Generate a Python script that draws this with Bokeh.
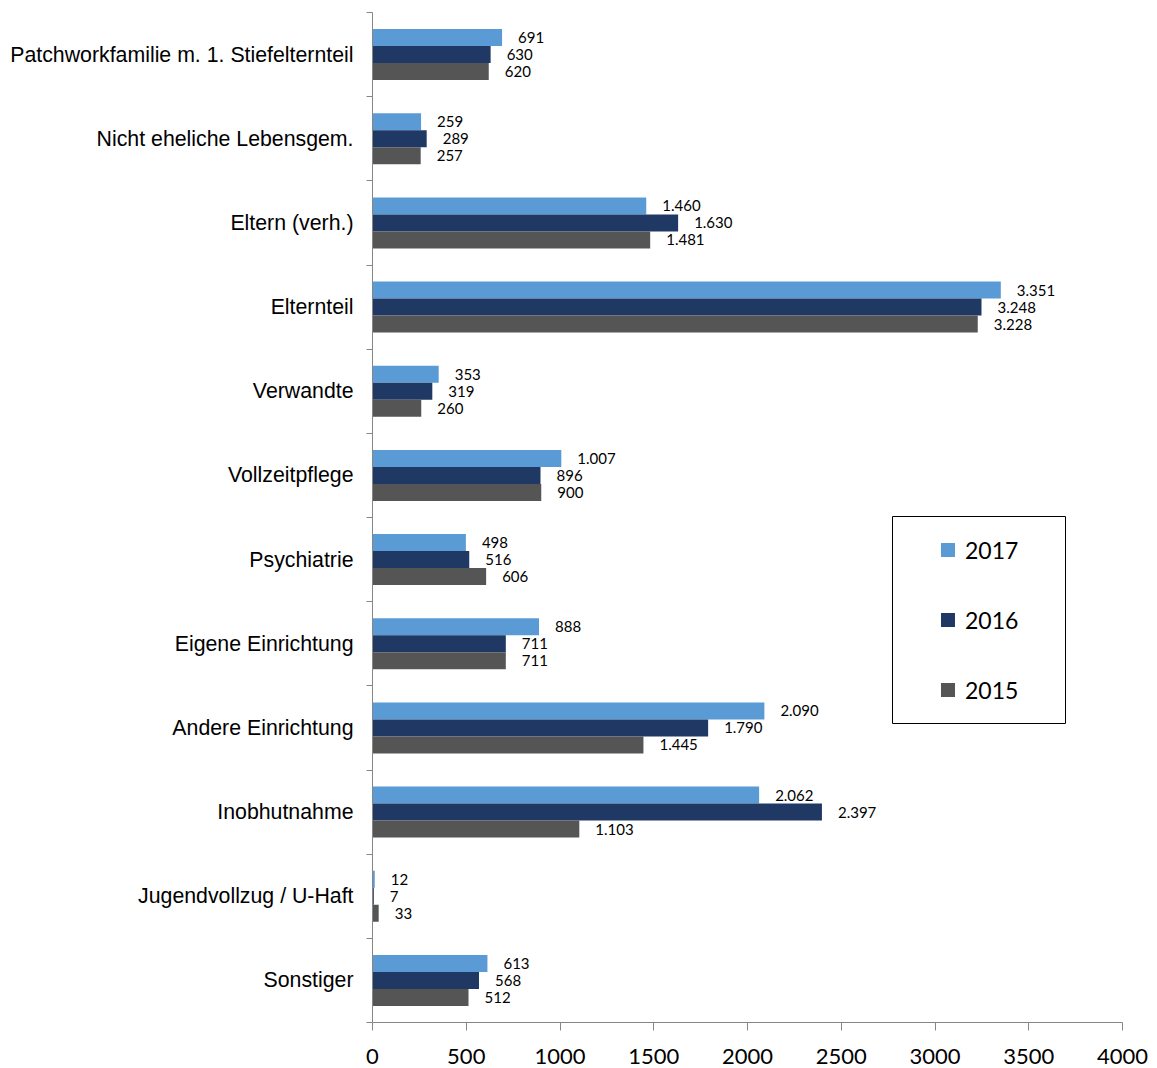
from bokeh.plotting import figure
from bokeh.models import (Range1d, FixedTicker, Legend, LegendItem,
                          ColumnDataSource, BoxAnnotation)
from bokeh.transform import dodge
from bokeh.core.properties import value
from bokeh.embed import file_html
from bokeh.resources import INLINE

categories = [
    "Patchworkfamilie m. 1. Stiefelternteil",
    "Nicht eheliche Lebensgem.",
    "Eltern (verh.)",
    "Elternteil",
    "Verwandte",
    "Vollzeitpflege",
    "Psychiatrie",
    "Eigene Einrichtung",
    "Andere Einrichtung",
    "Inobhutnahme",
    "Jugendvollzug / U-Haft",
    "Sonstiger",
]
v2017 = [691, 259, 1460, 3351, 353, 1007, 498, 888, 2090, 2062, 12, 613]
v2016 = [630, 289, 1630, 3248, 319, 896, 516, 711, 1790, 2397, 7, 568]
v2015 = [620, 257, 1481, 3228, 260, 900, 606, 711, 1445, 1103, 33, 512]
years = ["2017", "2016", "2015"]
x_ticks = [0, 500, 1000, 1500, 2000, 2500, 3000, 3500, 4000]

colors = ["#5B9BD5", "#203864", "#555555"]
series = [v2017, v2016, v2015]

n = len(categories)
idx = list(range(n))

W, H = 1157, 1068
BL, BR, BT, BB = 372, 35, 12, 46
p = figure(
    width=W, height=H,
    x_range=Range1d(0, 4000), y_range=Range1d(n - 0.5, -0.5),
    output_backend="svg", toolbar_location=None,
    min_border_left=BL, min_border_right=BR,
    min_border_top=BT, min_border_bottom=BB,
)
p.outline_line_color = None
p.xgrid.visible = False
p.ygrid.visible = False

bar_h = 0.202
offsets = [-bar_h, 0.0, bar_h]

def fmt(v):
    return f"{v:,}".replace(",", ".")

legend_items = []
for yr, vals, col, off in zip(years, series, colors, offsets):
    src = ColumnDataSource(dict(y=idx, v=vals, lab=[fmt(v) for v in vals]))
    p.hbar(y=dodge("y", off), left=0, right="v", height=bar_h,
           fill_color=col, line_color=None, source=src)
    p.text(x="v", y=dodge("y", off), text="lab", x_offset=16,
           text_baseline="middle", text_align="left",
           text_font=value("Lato"), text_font_size="15px",
           text_color="black", source=src)
    # marker renderer used only for the legend swatch
    r = p.scatter(x="v", y="y", source=src, marker="square",
                  fill_color=col, line_color=None, visible=False)
    legend_items.append(LegendItem(label=yr, renderers=[r]))

axis_col = "#868686"
xa = p.xaxis[0]
xa.ticker = FixedTicker(ticks=x_ticks)
xa.minor_tick_line_color = None
xa.major_tick_in = 0
xa.major_tick_out = 8
xa.major_label_standoff = 18
xa.axis_line_color = axis_col
xa.major_tick_line_color = axis_col
xa.major_label_text_font = "Lato"
xa.major_label_text_font_size = "22px"
xa.major_label_text_color = "black"

ya = p.yaxis[0]
ya.ticker = FixedTicker(ticks=idx, minor_ticks=[i - 0.5 for i in range(n + 1)])
ya.major_label_overrides = {i: c for i, c in zip(idx, categories)}
ya.major_tick_line_color = None
ya.major_tick_in = 0
ya.major_tick_out = 0
ya.minor_tick_in = 0
ya.minor_tick_out = 6
ya.minor_tick_line_color = axis_col
ya.axis_line_color = axis_col
ya.major_label_standoff = 13
ya.major_label_text_font = "Liberation Sans"
ya.major_label_text_font_size = "21.3px"
ya.major_label_text_color = "black"

# legend frame (canvas pixel box converted to data space)
frame_w = W - BL - BR
frame_h = H - BT - BB
def px_to_x(px):
    return (px - BL) / frame_w * 4000
def py_to_y(py):
    return (py - BT) / frame_h * n - 0.5

box = BoxAnnotation(left=px_to_x(892), right=px_to_x(1065),
                    top=py_to_y(516), bottom=py_to_y(723),
                    fill_color="white", fill_alpha=1,
                    line_color="black", line_width=1, line_alpha=1)
p.add_layout(box)

legend = Legend(
    items=legend_items, location=(930 - BL, H - BB - 707), margin=0,
    padding=0, spacing=35, glyph_width=35, glyph_height=35,
    label_height=35, label_standoff=0,
    label_text_font="Lato", label_text_font_size="23px",
    label_text_color="black",
    border_line_color=None, background_fill_alpha=0,
)
p.add_layout(legend)

open("out.html", "w").write(file_html(p, INLINE))
